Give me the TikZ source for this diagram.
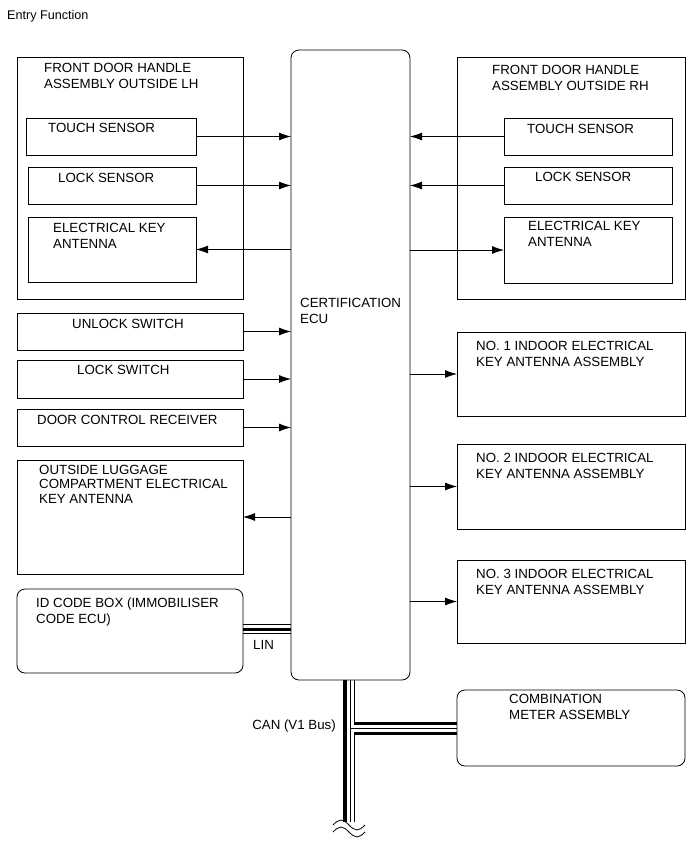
\documentclass[tikz,border=0pt]{standalone}
\usepackage{fontspec}
\setmainfont{Liberation Sans}
\usetikzlibrary{arrows.meta}

\begin{document}
\begin{tikzpicture}[x=1pt,y=-1pt,
        box/.style={draw,line width=0.8pt,inner sep=0,outer sep=0,anchor=north west},
        txt/.style={inner sep=0,anchor=north west,align=left,font=\fontsize{13.3}{16}\selectfont},
        arr/.style={line width=0.8pt,-{Latex[length=12pt,width=8pt]}},
        wire/.style={line width=0.8pt},
        bus/.style={line width=3pt}]
        \useasboundingbox (0,0) rectangle (690,854);
        \node[txt,font=\fontsize{12.6}{15}\selectfont] (title) at (7,10) {Entry Function};

        % certification ecu
        \node[box,rounded corners=8pt,minimum width=119,minimum height=630] (ECU) at (291,50) {};
        \node[txt] (ECU-t) at (300,298) {CERTIFICATION\\ECU};

        % front door handle LH
        \node[box,minimum width=226,minimum height=242] (LH) at (17,57) {};
        \node[txt] (LH-t) at (44,63) {FRONT DOOR HANDLE\\ASSEMBLY OUTSIDE LH};
        \node[box,minimum width=170,minimum height=37] (LH-1) at (26,118) {};
        \node[txt] (LH-1t) at (48,123) {TOUCH SENSOR};
        \node[box,minimum width=168,minimum height=37] (LH-2) at (28,167) {};
        \node[txt] (LH-2t) at (58,173) {LOCK SENSOR};
        \node[box,minimum width=168,minimum height=65] (LH-3) at (28,217) {};
        \node[txt] (LH-3t) at (53,223) {ELECTRICAL KEY\\ANTENNA};

        % front door handle RH
        \node[box,minimum width=228,minimum height=242] (RH) at (457,57) {};
        \node[txt] (RH-t) at (492,65) {FRONT DOOR HANDLE\\ASSEMBLY OUTSIDE RH};
        \node[box,minimum width=168,minimum height=37] (RH-1) at (504,118) {};
        \node[txt] (RH-1t) at (527,124) {TOUCH SENSOR};
        \node[box,minimum width=168,minimum height=37] (RH-2) at (504,167) {};
        \node[txt] (RH-2t) at (535,172) {LOCK SENSOR};
        \node[box,minimum width=168,minimum height=66] (RH-3) at (504,217) {};
        \node[txt] (RH-3t) at (528,221) {ELECTRICAL KEY\\ANTENNA};

        % switches and receivers
        \node[box,minimum width=226,minimum height=37] (SW-1) at (17,313) {};
        \node[txt] (SW-1t) at (72,319) {UNLOCK SWITCH};
        \node[box,minimum width=226,minimum height=38] (SW-2) at (17,360) {};
        \node[txt] (SW-2t) at (77,365) {LOCK SWITCH};
        \node[box,minimum width=226,minimum height=37] (RX) at (17,409) {};
        \node[txt] (RX-t) at (37,415) {DOOR CONTROL RECEIVER};
        \node[box,minimum width=226,minimum height=114] (LUG) at (17,460) {};
        \node[txt,font=\fontsize{13.3}{14.5}\selectfont] (LUG-t) at (39,465) {OUTSIDE LUGGAGE\\COMPARTMENT ELECTRICAL\\KEY ANTENNA};
        \node[box,rounded corners=8pt,minimum width=226,minimum height=84] (ID) at (17,589) {};
        \node[txt] (ID-t) at (36,598) {ID CODE BOX (IMMOBILISER\\CODE ECU)};

        % indoor antennas
        \foreach \n/\y/\h in {1/332/84,2/444/85,3/560/83}{
          \node[box,minimum width=228,minimum height=\h] (NO-\n) at (457,\y) {};
          \node[txt] (NO-\n t) at (476,\y+9) {NO. \n\ INDOOR ELECTRICAL\\KEY ANTENNA ASSEMBLY};
          \draw[arr] (NO-\n.west -| ECU.east) -- (NO-\n.west);
        }
        \node[box,rounded corners=8pt,minimum width=228,minimum height=76] (MET) at (457,690) {};
        \node[txt] (MET-t) at (509,694) {COMBINATION\\METER ASSEMBLY};

        % signals
        \foreach \s in {LH-1,LH-2,SW-1,SW-2,RX}{
          \draw[arr] (\s.east) -- (\s.east -| ECU.west);
        }
        \foreach \s in {RH-1,RH-2}{
          \draw[arr] (\s.west) -- (\s.west -| ECU.east);
        }
        \draw[arr] (LH-3.east -| ECU.west) -- (LH-3.east);
        \draw[arr] (RH-3.west -| ECU.east) -- (RH-3.west);
        \draw[arr] (LUG.east -| ECU.west) -- (LUG.east);

        % LIN
        \path (ID.east) ++(0,-7) coordinate (L-1) ++(0,5) coordinate (L-2) ++(0,4) coordinate (L-3);
        \draw[wire] (L-1) -- (L-1 -| ECU.west);
        \draw[bus] (L-2) -- (L-2 -| ECU.west);
        \draw[wire] (L-3) -- (L-3 -| ECU.west);
        \node[txt] (LIN) at (253,640) {LIN};

        % CAN
        \path (ECU.south) ++(-5.5,0) coordinate (C-1) ++(5,0) coordinate (C-2) ++(4,0) coordinate (C-3);
        \path (MET.west) ++(0,-5) coordinate (M-1) ++(0,5) coordinate (M-2) ++(0,5) coordinate (M-3);
        \coordinate (cut) at (350,822);
        \draw[line width=3.5pt] (C-1) -- (C-1 |- cut);
        \draw[wire] (C-2) -- (C-2 |- cut);
        \draw[wire] (C-3) -- (C-3 |- M-1);
        \draw[wire] (C-3 |- M-3) -- (C-3 |- cut);
        \draw[bus] (C-3 |- M-1) -- (M-1);
        \draw[wire] (C-2 |- M-2) -- (M-2);
        \draw[bus] (C-3 |- M-3) -- (M-3);
        \draw[wire] (333,825) sin (341,820) cos (349,825) sin (357,830) cos (365,825);
        \draw[wire] (333,832) sin (341,827) cos (349,832) sin (357,837) cos (365,832);
        \node[txt,anchor=north east] (CAN) at (336,720) {CAN (V1 Bus)};
\end{tikzpicture}
\end{document}
